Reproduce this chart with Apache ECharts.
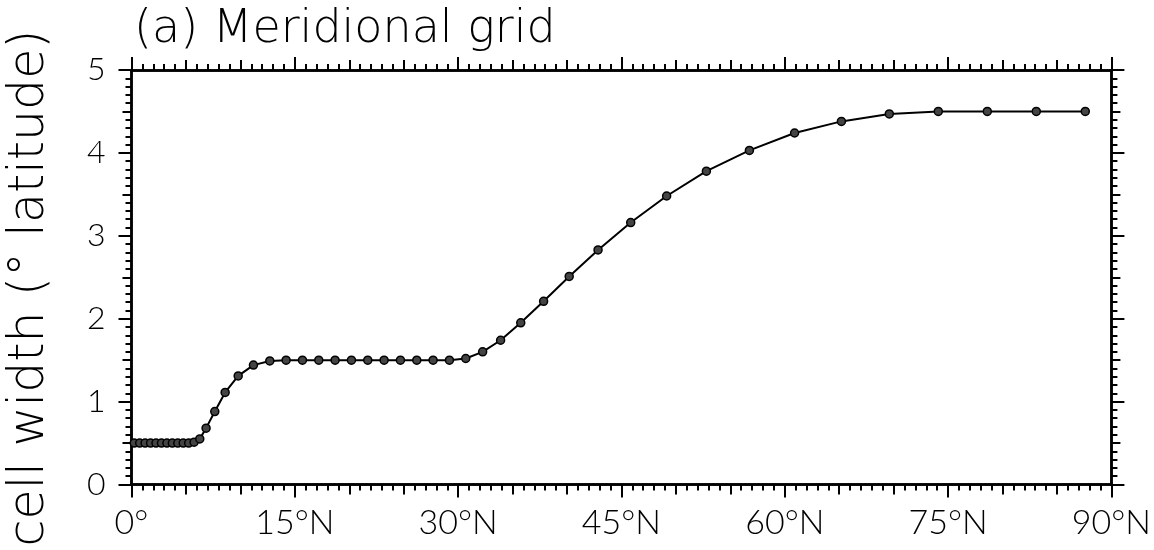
<!DOCTYPE html>
<html>
<head>
<meta charset="utf-8">
<script src="https://cdn.jsdelivr.net/npm/echarts@6/dist/echarts.min.js"></script>
<style>
html,body{margin:0;padding:0;background:#fff;}
#chart{width:1154px;height:550px;}
</style>
</head>
<body>
<div id="chart"></div>
<script>
// Latitude of each grid cell (degrees N)
const latitudes = [0.25,0.75,1.25,1.75,2.25,2.75,3.25,3.75,4.25,4.75,5.25,5.75,
  6.27,6.85,7.65,8.6,9.8,11.2,12.7,14.2,
  15.7,17.2,18.7,20.2,21.7,23.2,24.7,26.2,27.7,29.2,
  30.7,32.25,33.9,35.75,37.85,40.2,42.85,45.85,49.15,52.8,56.75,60.9,65.2,69.6,74.1,78.6,83.1,87.6];
// Cell width (degrees latitude)
const cellWidths = [0.5,0.5,0.5,0.5,0.5,0.5,0.5,0.5,0.5,0.5,0.5,0.51,
  0.55,0.68,0.88,1.11,1.31,1.44,1.49,1.5,
  1.5,1.5,1.5,1.5,1.5,1.5,1.5,1.5,1.5,1.5,
  1.52,1.6,1.74,1.95,2.21,2.51,2.83,3.16,3.48,3.78,4.03,4.24,4.38,4.47,4.5,4.5,4.5,4.5];
const xTickValues = [0,15,30,45,60,75,90];
const xTickLabels = ['0°','15°N','30°N','45°N','60°N','75°N','90°N'];
const yTickLabels = ['0','1','2','3','4','5'];
const titleText = '(a) Meridional grid';
const yAxisTitle = 'cell width (° latitude)';

const FONT = 'Lato';
const TFONT = 'DejaVu Sans';
const black = '#000';
const chart = echarts.init(document.getElementById('chart'), null, {renderer:'canvas'});

function xAxisDef(pos, interval, tickLen, withMinor, showLabel){
  return {
    type:'value', min:0, max:90, interval:interval, position:pos,
    axisLine:{show:true, onZero:false, lineStyle:{color:black, width:2.5}},
    axisTick:{show:true, inside:false, length:tickLen, lineStyle:{color:black, width:2}},
    minorTick:{show:withMinor, splitNumber:15, length:6, lineStyle:{color:black, width:2}},
    splitLine:{show:false},
    axisLabel:{show:showLabel, margin:22, color:black, fontFamily:FONT, fontSize:34, fontWeight:300,
      formatter:function(v){const i=xTickValues.indexOf(v); return i>=0?xTickLabels[i]:'';}}
  };
}
function yAxisDef(pos, interval, tickLen, withMinor, showLabel){
  return {
    type:'value', min:0, max:5, interval:interval, position:pos,
    axisLine:{show:true, onZero:false, lineStyle:{color:black, width:2.5}},
    axisTick:{show:true, inside:false, length:tickLen, lineStyle:{color:black, width:2}},
    minorTick:{show:withMinor, splitNumber:10, length:6, lineStyle:{color:black, width:2}},
    splitLine:{show:false},
    axisLabel:{show:showLabel, margin:26, color:black, fontFamily:FONT, fontSize:32, fontWeight:300,
      formatter:function(v){return Number.isInteger(v)?yTickLabels[v]:'';}}
  };
}

const option = {
  animation:false,
  backgroundColor:'#fff',
  title:{text:titleText, left:129, top:2,
    textStyle:{color:black, fontFamily:TFONT, fontSize:46, fontWeight:200}},
  grid:{left:131.5, right:33, top:70, bottom:65.5, containLabel:false},
  graphic:[{
    type:'text',
    rotation:Math.PI/2,
    x:30, y:288,
    style:{text:yAxisTitle, fill:black, font:'200 49px "DejaVu Sans"', textAlign:'center', textVerticalAlign:'middle'}
  }],
  xAxis:[
    xAxisDef('bottom',15,13,true,true),
    xAxisDef('bottom',5,10,false,false),
    xAxisDef('top',15,13,true,false),
    xAxisDef('top',5,10,false,false)
  ],
  yAxis:[
    yAxisDef('left',1,13,true,true),
    yAxisDef('left',0.5,9,false,false),
    yAxisDef('right',1,13,true,false),
    yAxisDef('right',0.5,9,false,false)
  ],
  series:[{
    type:'line', xAxisIndex:0, yAxisIndex:0,
    data: latitudes.map((lat,i)=>[lat, cellWidths[i]]),
    symbol:'circle', symbolSize:8,
    lineStyle:{color:black, width:2},
    itemStyle:{color:'#444', borderColor:black, borderWidth:1.5},
    z:5
  }]
};
chart.setOption(option);
</script>
</body>
</html>
